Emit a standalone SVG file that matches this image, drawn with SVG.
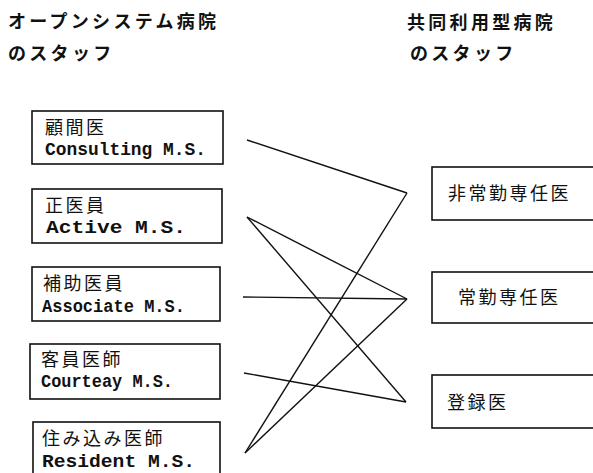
<svg xmlns="http://www.w3.org/2000/svg" width="593" height="473" viewBox="0 0 593 473">
<style>
.bx{fill:#fff;stroke:#111;stroke-width:1.6}
.jp{font-family:"Noto Sans CJK JP","Noto Sans CJK SC",sans-serif;font-size:18px;fill:#111;letter-spacing:2.5px}
.ttl{font-family:"Noto Sans CJK JP","Noto Sans CJK SC",sans-serif;font-size:18px;fill:#111;letter-spacing:3.3px;font-weight:bold}
.en{font-family:"Liberation Mono",monospace;font-size:18px;font-weight:bold;fill:#111}
.ln{stroke:#111;stroke-width:1.4;fill:none}
</style>
<rect width="593" height="473" fill="#fff"/>
<g id="titles">
<text class="ttl" x="8" y="28">オープンシステム病院</text>
<text class="ttl" x="8" y="60">のスタッフ</text>
<text class="ttl" x="407" y="29">共同利用型病院</text>
<text class="ttl" x="410" y="60">のスタッフ</text>
</g>
<g id="connectors">
<line class="ln" x1="247" y1="140" x2="407" y2="193"/>
<line class="ln" x1="407" y1="193" x2="245" y2="453"/>
<line class="ln" x1="247" y1="217" x2="407" y2="299"/>
<line class="ln" x1="247" y1="217" x2="406" y2="402"/>
<line class="ln" x1="243" y1="297" x2="407" y2="299"/>
<line class="ln" x1="407" y1="299" x2="245" y2="453"/>
<line class="ln" x1="244" y1="373" x2="406" y2="402"/>
</g>
<g id="consulting">
<rect class="bx" x="32" y="111" width="191" height="53"/>
<text class="jp" x="45" y="134">顧間医</text>
<text class="en" x="45" y="155" textLength="161" lengthAdjust="spacingAndGlyphs">Consulting M.S.</text>
</g>
<g id="active">
<rect class="bx" x="32" y="189" width="190" height="54"/>
<text class="jp" x="45" y="212">正医員</text>
<text class="en" x="46" y="233" textLength="140" lengthAdjust="spacingAndGlyphs">Active M.S.</text>
</g>
<g id="associate">
<rect class="bx" x="32" y="267" width="188" height="54"/>
<text class="jp" x="43" y="290">補助医員</text>
<text class="en" x="42" y="312" textLength="143" lengthAdjust="spacingAndGlyphs">Associate M.S.</text>
</g>
<g id="courteay">
<rect class="bx" x="30" y="344" width="190" height="55"/>
<text class="jp" x="41" y="366">客員医師</text>
<text class="en" x="41" y="387" textLength="132" lengthAdjust="spacingAndGlyphs">Courteay M.S.</text>
</g>
<g id="resident">
<rect class="bx" x="33" y="422" width="187" height="52"/>
<text class="jp" x="42" y="445">住み込み医師</text>
<text class="en" x="42" y="467" textLength="153" lengthAdjust="spacingAndGlyphs">Resident  M.S.</text>
</g>
<g id="hijokin">
<rect class="bx" x="432" y="167" width="162" height="53"/>
<text class="jp" x="448" y="200">非常勤専任医</text>
</g>
<g id="jokin">
<rect class="bx" x="432" y="272" width="162" height="51"/>
<text class="jp" x="458" y="304">常勤専任医</text>
</g>
<g id="toroku">
<rect class="bx" x="432" y="375" width="162" height="53"/>
<text class="jp" x="447" y="409">登録医</text>
</g>
</svg>
